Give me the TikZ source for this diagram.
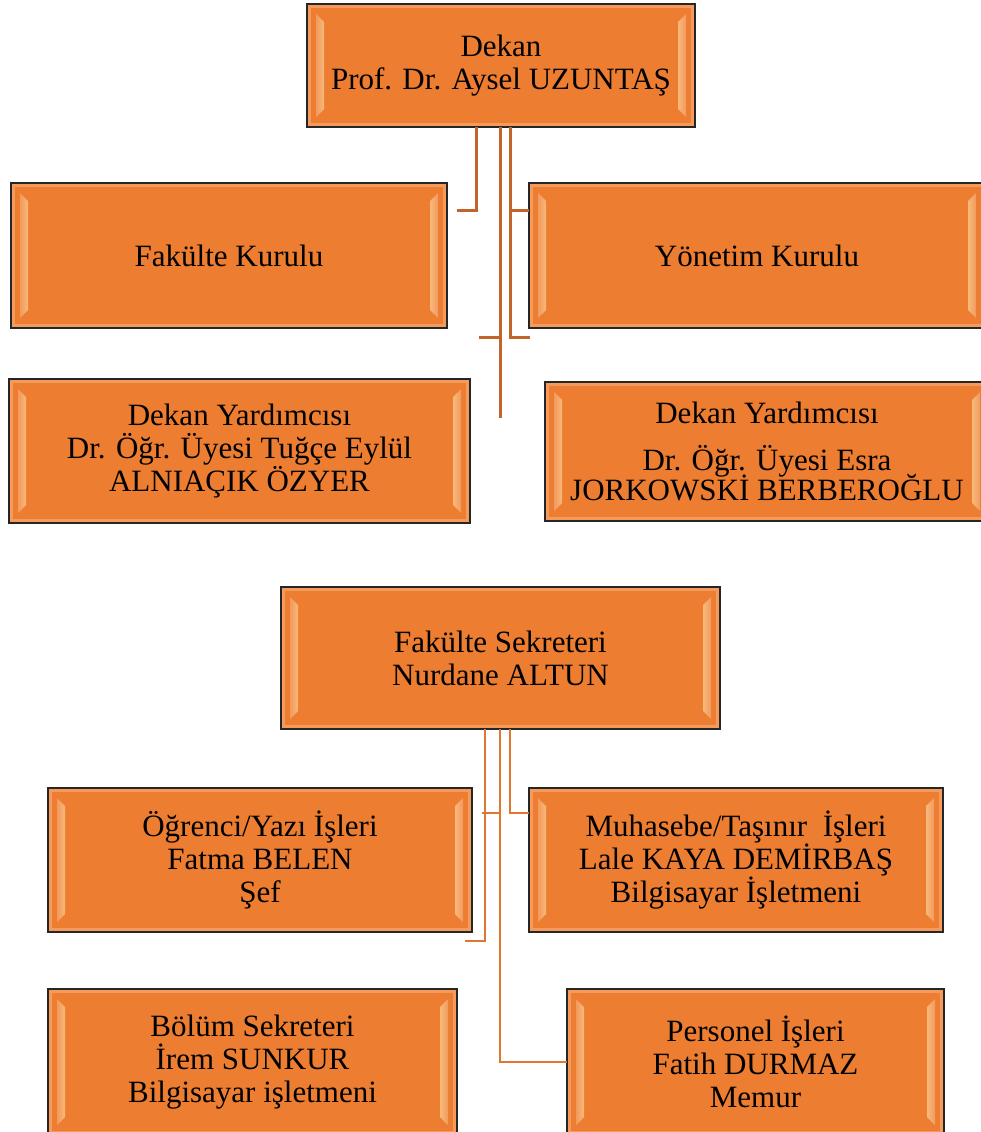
\documentclass[tikz,border=0pt]{standalone}
\usepackage{fontspec}
\setmainfont{Liberation Serif}
\usetikzlibrary{calc}
\definecolor{boxorange}{HTML}{ED7D31}
\definecolor{bandorange}{HTML}{F39A5C}
\definecolor{stripeyellow}{HTML}{FFF6C8}
\definecolor{topline}{HTML}{C2652B}
\definecolor{botline}{HTML}{E07630}
\tikzset{
  obox/.style={draw=black!85, line width=1.6pt, fill=boxorange, align=center,
    font=\fontsize{31}{33}\selectfont, inner sep=0pt, outer sep=0pt, anchor=north west,
    path picture={
      \coordinate (pa) at (path picture bounding box.north west);
      \coordinate (pb) at (path picture bounding box.south east);
      \draw[line width=8pt, draw=bandorange] (pa) rectangle (pb);
      \shade[left color=bandorange, middle color=stripeyellow, right color=stripeyellow!50!boxorange]
        ($(pa)+(9pt,-10pt)$) -- ($(pa)+(17pt,-18pt)$) -- ($(pa|-pb)+(17pt,18pt)$) -- ($(pa|-pb)+(9pt,10pt)$) -- cycle;
      \shade[left color=stripeyellow!50!boxorange, middle color=stripeyellow, right color=bandorange]
        ($(pb|-pa)+(-9pt,-10pt)$) -- ($(pb|-pa)+(-17pt,-18pt)$) -- ($(pb)+(-17pt,18pt)$) -- ($(pb)+(-9pt,10pt)$) -- cycle;
    }},
  tline/.style={draw=topline, line width=3pt},
  bline/.style={draw=botline, line width=2.6pt}
}
\begin{document}
\begin{tikzpicture}[x=1pt,y=-1pt]
\useasboundingbox (0,0) rectangle (981,1132);
% boxes
\node[obox, minimum width=388pt, minimum height=123pt] (dekan) at (307,4) {Dekan\\Prof. Dr. Aysel UZUNTAŞ};
\node[obox, minimum width=436pt, minimum height=145pt] (fk) at (11,183) {Fakülte Kurulu};
\node[obox, minimum width=456pt, minimum height=145pt] (yk) at (529,183) {Yönetim Kurulu};
\node[obox, minimum width=461pt, minimum height=144pt] (dy1) at (9,379) {Dekan Yardımcısı\\Dr. Öğr. Üyesi Tuğçe Eylül\\ALNIAÇIK ÖZYER};
\node[obox, minimum width=444pt, minimum height=139pt] (dy2) at (545,382) {Dekan Yardımcısı\\[14pt]Dr. Öğr. Üyesi Esra\\[-3pt]JORKOWSKİ BERBEROĞLU};
\node[obox, minimum width=439pt, minimum height=142pt] (fs) at (281,587) {Fakülte Sekreteri\\Nurdane ALTUN};
\node[obox, minimum width=424pt, minimum height=144pt] (og) at (48,788) {Öğrenci/Yazı İşleri\\Fatma BELEN\\Şef};
\node[obox, minimum width=414pt, minimum height=144pt] (mu) at (529,788) {Muhasebe/Taşınır\ \ İşleri\\Lale KAYA DEMİRBAŞ\\Bilgisayar İşletmeni};
\node[obox, minimum width=409pt, minimum height=146pt] (bo) at (48,989) {Bölüm Sekreteri\\İrem SUNKUR\\Bilgisayar işletmeni};
\node[obox, minimum width=377pt, minimum height=146pt] (pe) at (567,989) {Personel İşleri\\Fatih DURMAZ\\Memur};
% top connectors
\coordinate (k1) at (476,210);
\coordinate (k1e) at (457,210);
\coordinate (k2) at (500,418);
\coordinate (k2a) at (479,337);
\coordinate (k2b) at (500,337);
\coordinate (k3) at (510,337);
\coordinate (k3e) at (530,337);
\coordinate (k3m) at (510,210);
\draw[tline] (dekan.south -| k1) -- (k1) -- (k1e);
\draw[tline] (dekan.south -| k2) -- (k2);
\draw[tline] (k2a) -- (k2b);
\draw[tline] (dekan.south -| k3) -- (k3) -- (k3e);
\draw[tline] (k3m) -- (yk.west |- k3m);
% bottom connectors
\coordinate (b1) at (485,941);
\coordinate (b1e) at (465,941);
\coordinate (b2) at (500,1062);
\coordinate (b2a) at (482,813);
\coordinate (b2b) at (500,813);
\coordinate (b3) at (510,813);
\draw[bline] (fs.south -| b1) -- (b1) -- (b1e);
\draw[bline] (fs.south -| b2) -- (b2) -- (pe.west |- b2);
\draw[bline] (b2a) -- (b2b);
\draw[bline] (fs.south -| b3) -- (b3) -- (mu.west |- b3);
\end{tikzpicture}
\end{document}
